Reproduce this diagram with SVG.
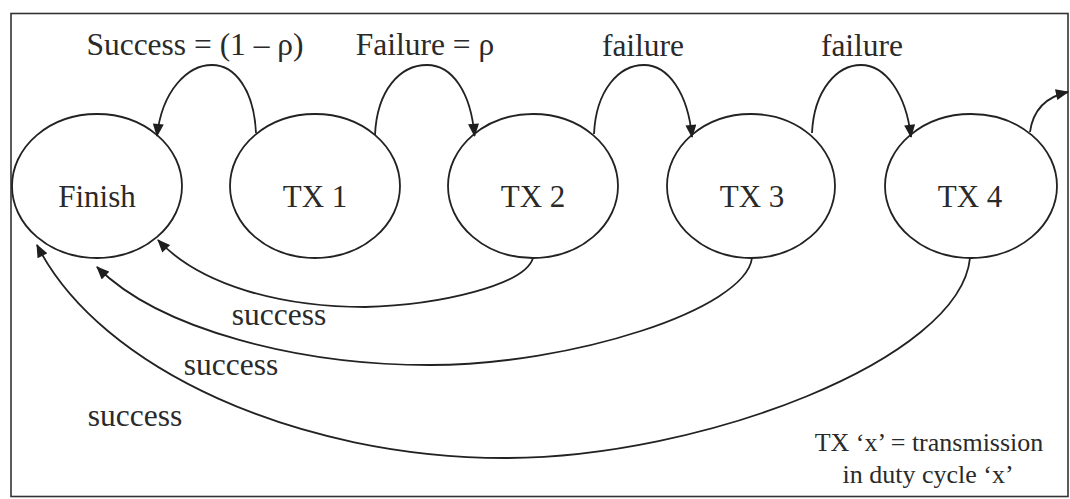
<svg xmlns="http://www.w3.org/2000/svg" width="1070" height="499" viewBox="0 0 1070 499">
<defs>
<style>
.node ellipse{fill:none;stroke:#222;stroke-width:1.8}
.lbl{font-family:"Liberation Serif","Times New Roman",serif;fill:#2a2a2a}
.nl{font-size:31px;text-anchor:middle}
.el{font-size:31.5px;text-anchor:middle}
.note{font-size:26px;text-anchor:middle}
.conn path{fill:none;stroke:#222;stroke-width:1.8}
</style>
<marker id="ah" viewBox="0 0 12 10" refX="11" refY="5" markerWidth="14" markerHeight="11" markerUnits="userSpaceOnUse" orient="auto">
<path d="M0,0 L12,5 L0,10 Z" fill="#1e1e1e"/>
</marker>
</defs>
<rect x="11" y="13.5" width="1057" height="483" fill="#fff" stroke="#333" stroke-width="1.6"/>

<g id="finish" class="node"><ellipse cx="97" cy="186" rx="85" ry="72"/><text class="lbl nl" x="97" y="207">Finish</text></g>
<g id="tx1" class="node"><ellipse cx="315" cy="186" rx="85" ry="72"/><text class="lbl nl" x="315" y="207">TX 1</text></g>
<g id="tx2" class="node"><ellipse cx="533" cy="186" rx="85" ry="72"/><text class="lbl nl" x="533" y="207">TX 2</text></g>
<g id="tx3" class="node"><ellipse cx="751" cy="186" rx="84" ry="72"/><text class="lbl nl" x="752" y="207">TX 3</text></g>
<g id="tx4" class="node"><ellipse cx="971" cy="186" rx="86" ry="72"/><text class="lbl nl" x="970" y="207">TX 4</text></g>

<g id="connectors" class="conn">
<path d="M256,133 C254,90 235,65 212,65 C188,65 162,90 157,136" marker-end="url(#ah)"/>
<path d="M375,135 C377,90 400,65 427,65 C452,65 471,92 474.5,136" marker-end="url(#ah)"/>
<path d="M594,134 C596,90 619,65 644,65 C668,65 688,93 692,137" marker-end="url(#ah)"/>
<path d="M812,133 C814,90 837,65 861,65 C885,65 906,93 911,137" marker-end="url(#ah)"/>
<path d="M1030,132 C1033,110 1045,97 1068,92" marker-end="url(#ah)"/>
<path d="M533,258 C525,285 440,305 365,307 C280,307 200,285 158,240" marker-end="url(#ah)"/>
<path d="M752,258 C745,310 570,365 430,365 C300,365 160,330 97,267" marker-end="url(#ah)"/>
<path d="M970,258 C960,360 700,458 505,458 C300,458 100,370 37,245" marker-end="url(#ah)"/>
</g>

<g id="labels">
<text class="lbl el" x="195" y="55">Success = (1 – ρ)</text>
<text class="lbl el" x="425" y="55">Failure = ρ</text>
<text class="lbl el" x="643" y="56">failure</text>
<text class="lbl el" x="862" y="56">failure</text>
<text class="lbl el" x="279" y="325">success</text>
<text class="lbl el" x="231" y="375">success</text>
<text class="lbl el" x="135" y="426">success</text>
<text class="lbl note" x="929" y="451">TX ‘x’ = transmission</text>
<text class="lbl note" x="928" y="483">in duty cycle ‘x’</text>
</g>
</svg>
